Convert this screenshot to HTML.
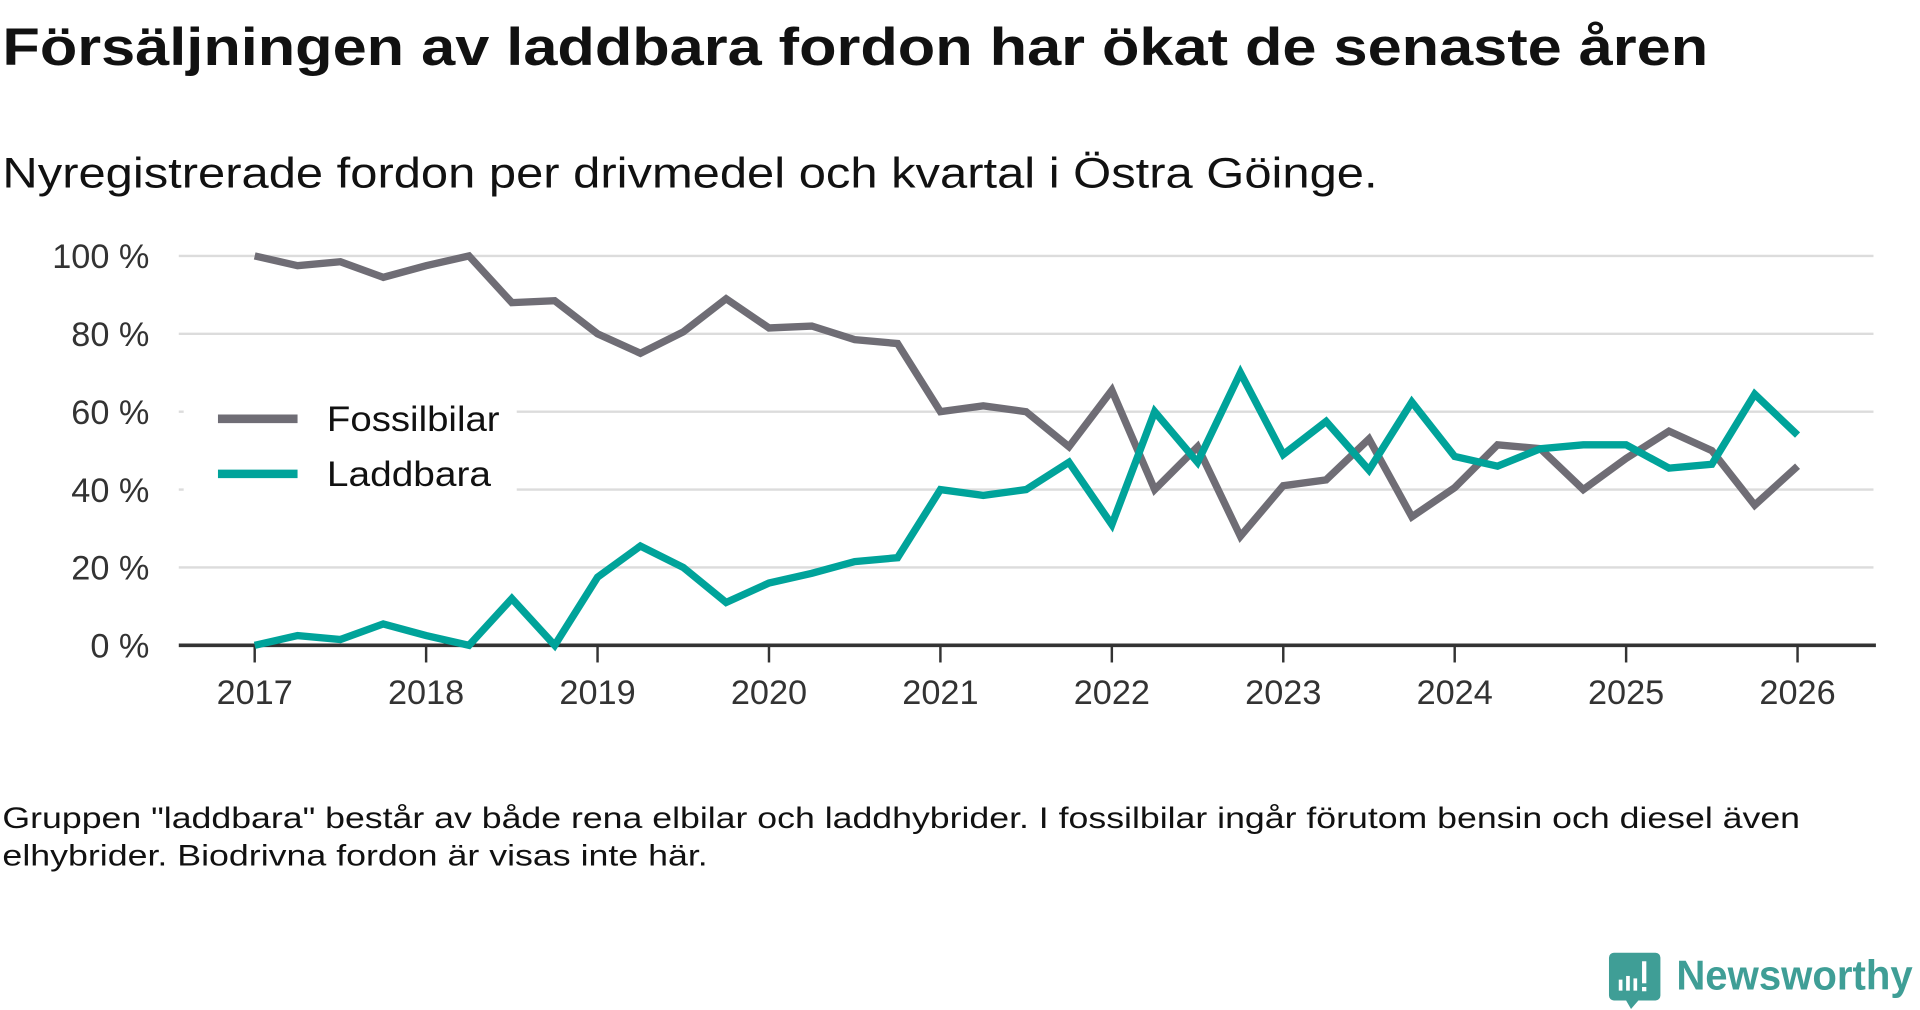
<!DOCTYPE html>
<html><head><meta charset="utf-8"><style>
html,body{margin:0;padding:0;background:#fff;}
svg{display:block;font-family:"Liberation Sans","DejaVu Sans",sans-serif;}
</style></head><body>
<svg id="chart" width="1920" height="1010" viewBox="0 0 1568 824.8" preserveAspectRatio="none" xmlns="http://www.w3.org/2000/svg">
<text x="2" y="53" font-size="43" font-weight="bold" fill="#111" textLength="1393" lengthAdjust="spacingAndGlyphs">Försäljningen av laddbara fordon har ökat de senaste åren</text>
<text x="2" y="153" font-size="35" fill="#111" textLength="1123" lengthAdjust="spacingAndGlyphs">Nyregistrerade fordon per drivmedel och kvartal i Östra Göinge.</text>
<g id="grid"></g>
<g id="yticks"></g>
<g id="xticks"></g>
<g id="lines"></g>
<g>
<rect x="150" y="318" width="272" height="88" fill="#fff"/>
<line x1="178" y1="342" x2="243" y2="342" stroke="#6f6d75" stroke-width="7"/>
<text x="267" y="352" font-size="29" fill="#111" textLength="141" lengthAdjust="spacingAndGlyphs">Fossilbilar</text>
<line x1="178" y1="387" x2="243" y2="387" stroke="#00a39a" stroke-width="7"/>
<text x="267" y="397" font-size="29" fill="#111" textLength="134" lengthAdjust="spacingAndGlyphs">Laddbara</text>
</g>
<text font-size="24" fill="#111"><tspan x="2" y="676" textLength="1468" lengthAdjust="spacingAndGlyphs">Gruppen "laddbara" består av både rena elbilar och laddhybrider. I fossilbilar ingår förutom bensin och diesel även</tspan><tspan x="2" y="707" textLength="576" lengthAdjust="spacingAndGlyphs">elhybrider. Biodrivna fordon är visas inte här.</tspan></text>
<g>
<path d="M1318 778 h34 a4 4 0 0 1 4 4 v31 a4 4 0 0 1 -4 4 h-14 l-6 7 l-4 -7 h-10 a4 4 0 0 1 -4 -4 v-31 a4 4 0 0 1 4 -4z" fill="#3f9e96"/>
<rect x="1322" y="800" width="3" height="9" fill="#fff"/><rect x="1328" y="797" width="3" height="12" fill="#fff"/><rect x="1334" y="799" width="3" height="10" fill="#fff"/><rect x="1341" y="785" width="3.5" height="18" fill="#fff"/><rect x="1341" y="806" width="3.5" height="3.5" fill="#fff"/>
<text x="1369" y="808" font-size="34" font-weight="600" fill="#3f9e96" textLength="193" lengthAdjust="spacingAndGlyphs">Newsworthy</text>
</g>
</svg>
<script>
const quarters = [2017,2017.25,2017.5,2017.75,2018,2018.25,2018.5,2018.75,2019,2019.25,2019.5,2019.75,2020,2020.25,2020.5,2020.75,2021,2021.25,2021.5,2021.75,2022,2022.25,2022.5,2022.75,2023,2023.25,2023.5,2023.75,2024,2024.25,2024.5,2024.75,2025,2025.25,2025.5,2025.75,2026];
const fossilbilar = [100,97.5,98.5,94.5,97.5,100,88,88.5,80,75,80.5,89,81.5,82,78.5,77.5,60,61.5,60,51,65.5,40,51,28,41,42.5,53,33,40.5,51.5,50.5,40,48,55,50,36,46];
const laddbara = [0,2.5,1.5,5.5,2.5,0,12,0,17.5,25.5,20,11,16,18.5,21.5,22.5,40,38.5,40,47,31,60,47,70,49,57.5,45,62.5,48.5,46,50.5,51.5,51.5,45.5,46.5,64.5,54];
const yTicks = [0,20,40,60,80,100];
const yTickLabels = ["0 %","20 %","40 %","60 %","80 %","100 %"];
const xTicks = [2017,2018,2019,2020,2021,2022,2023,2024,2025,2026];

const NS="http://www.w3.org/2000/svg";
const X0=146,X1=1530;
function xs(v){return 208+(v-2017)*140;}
function ys(v){return 527-v*3.18;}
function mk(tag,attrs,parent){const e=document.createElementNS(NS,tag);for(const k in attrs)e.setAttribute(k,attrs[k]);parent.appendChild(e);return e;}
const grid=document.getElementById('grid'),yt=document.getElementById('yticks'),xt=document.getElementById('xticks'),lines=document.getElementById('lines');
yTicks.forEach((v,i)=>{
  if(v>0){const g=mk('line',{x1:X0,x2:X1,y1:ys(v),y2:ys(v),stroke:'#dcdcdc','stroke-width':2},grid);
  
  }
  const t=mk('text',{x:122,y:ys(v)+10,'text-anchor':'end','font-size':28,fill:'#333'},yt);
  t.textContent=yTickLabels[i];
  
  
});
const ax=mk('line',{x1:X0,x2:X1+2,y1:ys(0),y2:ys(0),stroke:'#333','stroke-width':3},xt);


xTicks.forEach(v=>{
  const l=mk('line',{x1:xs(v),x2:xs(v),y1:ys(0),y2:ys(0)+14,stroke:'#333','stroke-width':2},xt);
  
  
  const t=mk('text',{x:xs(v),y:575,'text-anchor':'middle','font-size':28,fill:'#333'},xt);
  t.textContent=String(v);
  
  
});
function series(vals,color,name){
  const d=vals.map((v,i)=>(i?'L':'M')+xs(quarters[i])+' '+ys(v)).join(' ');
  const p=mk('path',{d:d,fill:'none',stroke:color,'stroke-width':6,'stroke-linejoin':'miter','stroke-miterlimit':3},lines);
  
  
}
series(fossilbilar,'#6f6d75','line-fossilbilar');
series(laddbara,'#00a39a','line-laddbara');
</script>
</body></html>
